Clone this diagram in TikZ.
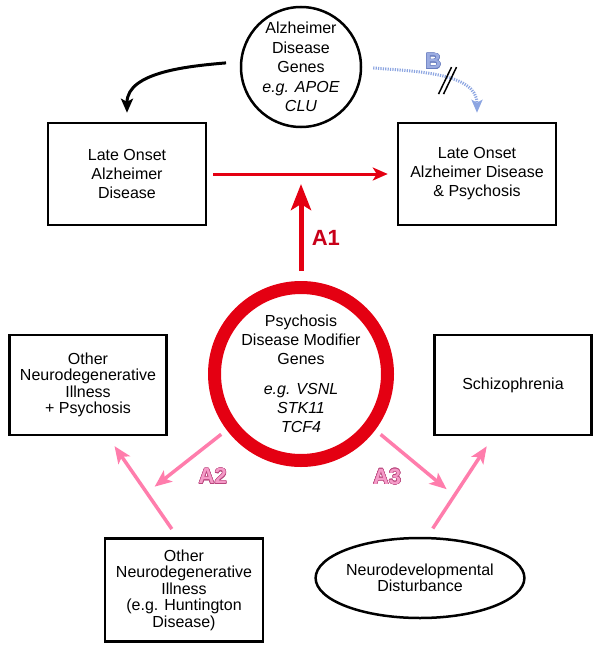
\documentclass[tikz,border=0pt]{standalone}
\usepackage{fontspec}
\setmainfont{Liberation Sans}
\usepackage{contour}
\usetikzlibrary{shapes.geometric,arrows.meta,positioning}

\definecolor{redc}{RGB}{228,0,18}
\definecolor{darkredc}{RGB}{200,0,25}
\definecolor{pinkc}{RGB}{255,125,172}
\definecolor{pinkfill}{RGB}{245,155,200}
\definecolor{pinkline}{RGB}{185,70,125}
\definecolor{bluec}{RGB}{140,165,225}
\definecolor{bluefill}{RGB}{155,172,225}
\definecolor{blueline}{RGB}{105,125,190}

\contourlength{0.5pt}
\newcommand{\outlined}[3]{\textcolor{#2}{\contour{#1}{#3}}}

\tikzstyle{block} = [draw, rectangle, line width=2.5pt, minimum width=158pt,
    minimum height=102pt, inner sep=0pt, align=center, font=\fontsize{16}{19}\selectfont]
\tikzstyle{lowblock} = [block, minimum width=157pt, minimum height=100pt, font=\fontsize{16}{16.5}\selectfont]
\tikzstyle{gene} = [draw, circle, line width=2.5pt, minimum size=120pt, inner sep=0pt,
    align=center, font=\fontsize{16}{19.5}\selectfont]
\tikzstyle{modifier} = [draw=redc, circle, line width=13pt, minimum size=173pt, inner sep=0pt,
    align=center, font=\fontsize{16}{19}\selectfont]
\tikzstyle{devel} = [draw, ellipse, line width=2.5pt, minimum width=170pt, minimum height=80pt,
    inner sep=0pt, align=center, font=\fontsize{16}{16.5}\selectfont]
\tikzstyle{redarr} = [draw=redc, line width=3pt, -{Stealth[length=15pt,width=13pt,inset=4pt]}]
\tikzstyle{bigarr} = [draw=redc, line width=5pt, -{Stealth[length=26pt,width=20pt,inset=6pt]}]
\tikzstyle{pinkarr} = [draw=pinkc, line width=3.5pt, -{Stealth[length=17pt,width=14pt,inset=4pt]}]
\tikzstyle{blackarr} = [draw, line width=3pt, -{Stealth[length=14pt,width=12pt,inset=3pt]}]
\tikzstyle{bluearr} = [draw=bluec, line width=3pt, dash pattern=on 1.2pt off 1.2pt,
    -{Stealth[length=13pt,width=11pt,inset=3pt]}]
\tikzstyle{cutmark} = [draw, line width=1.5pt]
\tikzstyle{pathlabel} = [font=\fontsize{22}{22}\selectfont\bfseries]

\begin{document}
\begin{tikzpicture}[x=1pt, y=-1pt, on grid]
    \useasboundingbox (0,0) rectangle (601,650);

    % central modifier genes
    \node [modifier] (pdm) at (301,374) {Psychosis\\Disease Modifier\\Genes\\[11pt]
        \textit{e.g. VSNL}\\\textit{STK11}\\\textit{TCF4}};
    \node [gene, above=307pt of pdm] (adg) {Alzheimer\\Disease\\Genes\\\textit{e.g. APOE}\\\textit{CLU}};

    \node [block, above left=200pt and 174pt of pdm] (load) {Late Onset\\Alzheimer\\Disease};
    \node [block, above right=200pt and 176pt of pdm] (lpsy) {Late Onset\\Alzheimer Disease\\\& Psychosis};
    \node [lowblock, below left=11pt and 213pt of pdm] (ondp) {Other\\Neurodegenerative\\Illness\\+ Psychosis};
    \node [lowblock, below right=11pt and 212pt of pdm] (schiz) {Schizophrenia};
    \node [lowblock, minimum width=158pt, minimum height=103pt,
           below left=216pt and 117pt of pdm] (ond) {Other\\Neurodegenerative\\Illness\\(e.g. Huntington\\Disease)};
    \node [devel, below right=204pt and 119pt of pdm] (ndd) {Neurodevelopmental\\Disturbance};

    % top: alzheimer genes
    \draw [blackarr, shorten <=14pt, shorten >=9pt] (adg.175) to[out=185, in=90] (load.north);
    \draw [bluearr, shorten <=11pt, shorten >=9pt] (adg.east) to[out=-5, in=90]
        node [pos=0.5, xshift=-5pt, yshift=16pt] (blab) {\fontsize{22}{22}\selectfont\bfseries\outlined{blueline}{bluefill}{B}}
        coordinate [pos=0.58] (cut) (lpsy.north);
    \draw [cutmark] (cut) ++(-10,13) -- ++(13,-27);
    \draw [cutmark] (cut) ++(-5,13) -- ++(13,-27);

    % A1
    \draw [redarr, shorten <=6pt, shorten >=9pt] (load.east) -- coordinate [pos=0.5] (mid) (lpsy.west);
    \draw [bigarr, shorten <=10pt, shorten >=10pt] (pdm.north) --
        node [pathlabel, pos=0.4, right, xshift=5pt, text=darkredc] (a1) {A1} (pdm.north |- mid);

    % A2 and A3
    \draw [pinkarr, shorten <=10pt, shorten >=12pt] (ond.97) -- coordinate [pos=0.44] (a2mid) (ondp.-69);
    \draw [pinkarr, shorten <=10pt, shorten >=12pt] (ndd.80) -- coordinate [pos=0.41] (a3mid) (schiz.249);
    \draw [pinkarr, shorten <=7pt, shorten >=10pt] (pdm.217) --
        node [pathlabel, pos=0.2, xshift=2pt, yshift=-34pt] (a2) {\outlined{pinkline}{pinkfill}{A2}} (a2mid);
    \draw [pinkarr, shorten <=7pt, shorten >=10pt] (pdm.-37) --
        node [pathlabel, pos=0.2, xshift=-4pt, yshift=-34pt] (a3) {\outlined{pinkline}{pinkfill}{A3}} (a3mid);

\end{tikzpicture}
\end{document}
